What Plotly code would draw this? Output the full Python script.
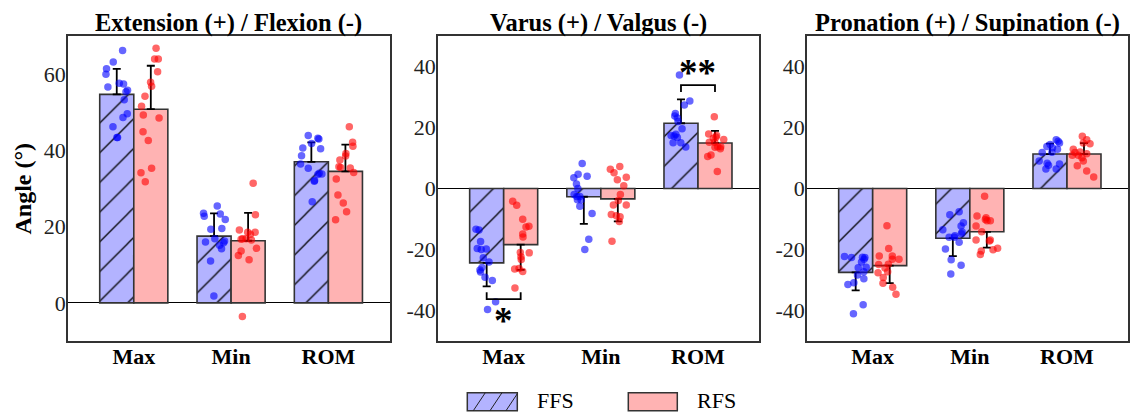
import plotly.graph_objects as go

W, H = 1132, 412

categories = ["Max", "Min", "ROM"]
groups = ["FFS", "RFS"]
panel_titles = ["Extension (+) / Flexion (-)", "Varus (+) / Valgus (-)", "Pronation (+) / Supination (-)"]
y_ranges = [[-10, 70], [-50, 50], [-50, 50]]
y_ticks = [[0, 20, 40, 60], [-40, -20, 0, 20, 40], [-40, -20, 0, 20, 40]]

# ---- bar means / SD (degrees) ----
ext_ffs_mean = [54.7, 17.5, 37.0]
ext_ffs_sd = [6.7, 6.0, 5.1]
ext_rfs_mean = [50.8, 16.3, 34.5]
ext_rfs_sd = [11.4, 7.3, 7.0]

var_ffs_mean = [-24.4, -2.7, 21.4]
var_ffs_sd = [7.7, 8.9, 7.8]
var_rfs_mean = [-18.4, -3.4, 14.9]
var_rfs_sd = [8.3, 7.4, 4.0]

pro_ffs_mean = [-27.5, -16.3, 11.3]
pro_ffs_sd = [5.9, 5.9, 3.4]
pro_rfs_mean = [-25.3, -14.2, 11.3]
pro_rfs_sd = [5.7, 5.2, 3.6]

# ---- individual subject values (degrees) and their horizontal jitter ----
ext_ffs_max = [66.2, 63.2, 61.4, 60.0, 56.6, 57.6, 57.4, 55.8, 55.4, 53.3, 49.6, 48.6, 46.2, 43.4, 43.4]
ext_ffs_max_jit = [0.06, -0.036, -0.105, -0.111, -0.091, 0.026, 0.07, 0.111, 0.095, 0.077, 0.108, 0.064, -0.039, 0.002, 0.008]
ext_rfs_max = [66.8, 64.0, 64.0, 60.6, 57.9, 56.8, 54.2, 51.6, 49.3, 48.5, 44.9, 42.6, 35.3, 34.1, 31.8]
ext_rfs_max_jit = [0.054, 0.039, 0.077, 0.07, -0.002, 0.008, -0.06, -0.095, -0.077, 0.085, -0.08, -0.026, 0.008, -0.101, -0.057]
ext_ffs_min = [25.4, 23.5, 22.7, 23.3, 21.9, 19.3, 19.5, 16.0, 16.8, 16.2, 15.1, 14.2, 11.0, 1.8, 15.8]
ext_ffs_min_jit = [0.033, -0.108, -0.101, 0.064, 0.115, -0.033, 0.08, -0.088, 0.008, 0.108, 0.057, 0.077, -0.036, -0.002, 0.098]
ext_rfs_min = [31.4, 23.1, 19.1, 18.5, 18.5, 18.0, 16.8, 16.7, 16.8, 14.3, 13.6, 12.4, 11.3, -3.6, 16.5]
ext_rfs_min_jit = [0.052, 0.075, -0.09, -0.004, 0.072, 0.024, -0.021, -0.072, -0.056, 0.086, -0.072, -0.1, 0.01, -0.059, 0.034]
ext_ffs_rom = [43.9, 43.2, 43.0, 40.6, 40.4, 41.8, 38.6, 36.4, 35.3, 34.0, 33.8, 33.7, 32.1, 26.5, 31.9]
ext_ffs_rom_jit = [-0.032, 0.067, 0.077, -0.088, 0.095, 0.002, -0.101, -0.111, -0.032, 0.081, 0.108, 0.067, 0.033, 0.009, 0.03]
ext_rfs_rom = [46.2, 42.1, 41.1, 39.2, 37.5, 35.7, 35.5, 35.4, 34.2, 32.5, 28.3, 26.2, 23.9, 21.8, 38.5]
ext_rfs_rom_jit = [0.04, 0.074, 0.077, 0.005, -0.057, -0.067, -0.049, 0.05, 0.085, -0.094, -0.077, -0.022, 0.012, -0.101, 0.002]

var_ffs_max = [-13.4, -13.6, -17.4, -19.7, -20.0, -19.8, -22.7, -24.1, -25.9, -27.4, -29.1, -30.2, -37.1, -39.7, -26.7]
var_ffs_max_jit = [-0.11, -0.079, -0.063, -0.097, -0.056, -0.004, -0.035, 0.024, -0.048, -0.063, -0.017, 0.058, 0.092, 0.009, -0.069]
var_rfs_max = [-4.2, -5.5, -10.1, -12.6, -12.4, -14.9, -15.9, -21.0, -21.1, -22.4, -23.3, -26.4, -26.2, -27.2, -32.6]
var_rfs_max_jit = [-0.082, -0.041, 0.021, 0.055, 0.085, 0.021, 0.024, -0.004, 0.088, 0.003, 0.006, -0.062, -0.017, 0.021, -0.059]
var_ffs_min = [8.2, 4.7, 3.5, 4.0, 1.5, 0.0, -2.0, -2.6, -2.6, -3.7, -3.7, -5.8, -8.2, -16.6, -20.0]
var_ffs_min_jit = [-0.017, -0.059, -0.103, 0.034, -0.076, -0.062, -0.1, -0.072, -0.041, -0.066, -0.028, -0.041, 0.085, 0.051, 0.01]
var_rfs_min = [6.3, 7.2, 5.2, 3.7, 2.9, 0.9, -2.0, -3.9, -5.4, -5.4, -8.5, -8.9, -9.3, -10.8, -17.3]
var_rfs_min_jit = [-0.077, 0.02, -0.039, 0.087, -0.005, 0.061, 0.026, 0.005, -0.046, 0.087, -0.067, -0.015, 0.023, 0.015, -0.06]
var_ffs_rom = [37.2, 28.7, 27.4, 24.6, 23.8, 23.1, 19.6, 17.4, 17.2, 16.7, 15.0, 15.0, 13.6, 17.8, 22.0]
var_ffs_rom_jit = [-0.016, 0.091, 0.035, -0.058, -0.064, -0.037, 0.011, -0.102, -0.071, -0.037, -0.081, -0.002, 0.049, -0.053, -0.03]
var_rfs_rom = [23.5, 17.9, 17.4, 16.1, 15.2, 15.2, 13.7, 13.7, 13.5, 11.0, 10.5, 5.6, 16.5, 13.0, 16.8]
var_rfs_rom_jit = [-0.007, -0.065, 0.017, 0.09, -0.059, -0.003, 0.028, 0.059, 0.0, -0.041, -0.075, 0.024, -0.017, 0.055, 0.01]

pro_ffs_max = [-22.3, -22.6, -22.5, -22.6, -24.1, -25.8, -27.3, -28.4, -29.6, -30.9, -31.5, -38.1, -41.1, -23.2, -26.0]
pro_ffs_max_jit = [-0.115, -0.043, 0.07, 0.095, 0.06, 0.108, 0.084, 0.019, 0.084, -0.019, -0.08, 0.077, -0.023, 0.087, 0.026]
pro_rfs_max = [-12.2, -19.7, -22.1, -22.1, -23.2, -23.2, -24.9, -26.1, -24.8, -27.6, -29.2, -27.3, -31.1, -32.4, -34.7]
pro_rfs_max_jit = [-0.028, -0.01, -0.107, 0.027, 0.096, 0.027, -0.113, -0.048, -0.014, -0.12, -0.066, -0.021, -0.069, 0.031, 0.065]
pro_ffs_min = [-7.6, -8.6, -11.2, -12.3, -13.5, -14.3, -14.8, -16.0, -16.0, -17.6, -19.8, -23.4, -25.2, -28.0, -15.5]
pro_ffs_min_jit = [0.065, -0.031, 0.109, 0.085, -0.103, 0.096, 0.088, -0.038, 0.016, 0.065, -0.076, -0.017, 0.085, -0.021, 0.021]
pro_rfs_min = [-2.5, -9.0, -9.6, -10.6, -10.6, -12.3, -14.2, -16.9, -16.9, -17.2, -20.5, -21.6, -19.6, -20.1, -10.2]
pro_rfs_min_jit = [-0.023, -0.101, -0.008, 0.002, 0.036, -0.111, -0.053, -0.111, 0.036, 0.026, -0.057, -0.067, 0.111, 0.064, -0.015]
pro_ffs_rom = [16.0, 15.5, 14.9, 14.4, 13.8, 13.4, 12.9, 11.8, 11.9, 9.0, 8.0, 7.6, 6.4, 6.4, 8.3]
pro_ffs_rom_jit = [0.064, 0.084, 0.098, 0.002, -0.032, 0.026, 0.077, -0.08, 0.02, -0.111, 0.098, -0.015, -0.042, 0.064, -0.029]
pro_rfs_rom = [17.1, 16.0, 14.7, 14.9, 12.9, 11.4, 10.9, 10.9, 10.1, 9.0, 7.5, 5.7, 3.8, 12.0, 11.8]
pro_rfs_rom_jit = [-0.017, 0.028, 0.062, -0.007, -0.11, 0.028, -0.12, -0.059, -0.021, -0.007, -0.069, 0.028, 0.1, -0.041, -0.093]

# significance marks
sig_panel = [1, 1]
sig_category = ["Max", "ROM"]
sig_label = ["*", "**"]
sig_bracket_y = [-36.3, 33.9]
sig_label_y = [-42.0, 39.4]
sig_direction = [-1, 1]

panels = [
    dict(ffs_mean=ext_ffs_mean, ffs_sd=ext_ffs_sd, rfs_mean=ext_rfs_mean, rfs_sd=ext_rfs_sd,
         ffs_pts=[ext_ffs_max, ext_ffs_min, ext_ffs_rom], ffs_jit=[ext_ffs_max_jit, ext_ffs_min_jit, ext_ffs_rom_jit],
         rfs_pts=[ext_rfs_max, ext_rfs_min, ext_rfs_rom], rfs_jit=[ext_rfs_max_jit, ext_rfs_min_jit, ext_rfs_rom_jit]),
    dict(ffs_mean=var_ffs_mean, ffs_sd=var_ffs_sd, rfs_mean=var_rfs_mean, rfs_sd=var_rfs_sd,
         ffs_pts=[var_ffs_max, var_ffs_min, var_ffs_rom], ffs_jit=[var_ffs_max_jit, var_ffs_min_jit, var_ffs_rom_jit],
         rfs_pts=[var_rfs_max, var_rfs_min, var_rfs_rom], rfs_jit=[var_rfs_max_jit, var_rfs_min_jit, var_rfs_rom_jit]),
    dict(ffs_mean=pro_ffs_mean, ffs_sd=pro_ffs_sd, rfs_mean=pro_rfs_mean, rfs_sd=pro_rfs_sd,
         ffs_pts=[pro_ffs_max, pro_ffs_min, pro_ffs_rom], ffs_jit=[pro_ffs_max_jit, pro_ffs_min_jit, pro_ffs_rom_jit],
         rfs_pts=[pro_rfs_max, pro_rfs_min, pro_rfs_rom], rfs_jit=[pro_rfs_max_jit, pro_rfs_min_jit, pro_rfs_rom_jit]),
]

# ---- style ----
FONT = "Liberation Serif"
FFS_FILL = "#b3b3ff"
RFS_FILL = "#ffb3b3"
FFS_DOT = "rgba(0,0,255,0.6)"
RFS_DOT = "rgba(255,0,0,0.6)"
EDGE = "#333333"
DODGE = 0.175
BAR_W = 0.35
X_RANGE = [-0.676, 2.628]

panel_px = [(68, 389.5), (438, 759), (807, 1128)]
plot_top_px, plot_bot_px = 36, 341


def px2x(px):
    return px / W


def px2y(py):
    return (H - py) / H


fig = go.Figure()
annotations = []
shapes = []
cat_pos = {c: i for i, c in enumerate(categories)}

for p, pan in enumerate(panels):
    ax = "" if p == 0 else str(p + 1)
    xa, ya = "x" + ax, "y" + ax
    pos = list(range(len(categories)))
    for g, (mean, sd, fill, hatch, sign) in enumerate([
        (pan["ffs_mean"], pan["ffs_sd"], FFS_FILL, True, -1),
        (pan["rfs_mean"], pan["rfs_sd"], RFS_FILL, False, 1),
    ]):
        up = [s if m >= 0 else 0 for m, s in zip(mean, sd)]
        down = [s if m < 0 else 0 for m, s in zip(mean, sd)]
        marker = dict(color=fill, line=dict(color=EDGE, width=1.6))
        if hatch:
            marker["pattern"] = dict(shape="/", fgcolor="#000000", fgopacity=1, size=21,
                                     solidity=0.06, fillmode="overlay")
        fig.add_trace(go.Bar(
            x=[i + sign * DODGE for i in pos], y=mean, width=BAR_W, marker=marker,
            error_y=dict(type="data", symmetric=False, array=up, arrayminus=down,
                         color="black", thickness=1.8, width=4),
            xaxis=xa, yaxis=ya, showlegend=False, name=groups[g]))
    for g, (pts, jit, col, sign) in enumerate([
        (pan["ffs_pts"], pan["ffs_jit"], FFS_DOT, -1),
        (pan["rfs_pts"], pan["rfs_jit"], RFS_DOT, 1),
    ]):
        xs, ys = [], []
        for i, (vals, js) in enumerate(zip(pts, jit)):
            xs += [i + sign * DODGE + j for j in js]
            ys += vals
        fig.add_trace(go.Scatter(x=xs, y=ys, mode="markers",
                                 marker=dict(color=col, size=7.5, line=dict(width=0)),
                                 xaxis=xa, yaxis=ya, showlegend=False, name=groups[g]))

    x0, x1 = panel_px[p]
    dom_x = [px2x(x0), px2x(x1)]
    dom_y = [px2y(plot_bot_px), px2y(plot_top_px)]
    axis_common = dict(showline=True, mirror=True, linecolor=EDGE, linewidth=1.6,
                       showgrid=False, ticks="")
    fig.update_layout(**{
        "xaxis" + ax: dict(domain=dom_x, range=X_RANGE, tickvals=pos,
                           ticktext=["<b>%s</b>" % c for c in categories],
                           tickfont=dict(family=FONT, size=22, color="black"),
                           ticklabelstandoff=-5,
                           zeroline=False, anchor=ya, **axis_common),
        "yaxis" + ax: dict(domain=dom_y, range=y_ranges[p], tickvals=y_ticks[p],
                           ticktext=[str(v) for v in y_ticks[p]],
                           tickfont=dict(family=FONT, size=22, color="#222222"),
                           ticklabelstandoff=-4,
                           zeroline=True, zerolinecolor="black", zerolinewidth=1,
                           anchor=xa, **axis_common),
    })
    annotations.append(dict(text="<b>%s</b>" % panel_titles[p], xref="paper", yref="paper",
                            x=px2x((x0 + x1) / 2), y=px2y(23), xanchor="center", yanchor="middle",
                            showarrow=False, font=dict(family=FONT, size=24.5, color="black")))

# significance brackets
for pi, cat, lab, by, ly, d in zip(sig_panel, sig_category, sig_label, sig_bracket_y, sig_label_y, sig_direction):
    ax = "" if pi == 0 else str(pi + 1)
    i = cat_pos[cat]
    xl, xr = i - DODGE, i + DODGE
    tick = 2.3 * d
    shapes.append(dict(type="path", xref="x" + ax, yref="y" + ax,
                       path="M %f,%f L %f,%f L %f,%f L %f,%f" % (xl, by - tick, xl, by, xr, by, xr, by - tick),
                       line=dict(color="black", width=1.8)))
    annotations.append(dict(text="<b>%s</b>" % lab,
                            xref="x" + ax, yref="y" + ax,
                            x=i, y=ly, xanchor="center", yanchor="middle",
                            showarrow=False, font=dict(family=FONT, size=37, color="black"),
                            yshift=-4))

# y axis title
annotations.append(dict(text="<b>Angle (°)</b>", xref="paper", yref="paper", x=px2x(23),
                        y=px2y((plot_top_px + plot_bot_px) / 2), textangle=-90, showarrow=False,
                        xanchor="center", yanchor="middle", font=dict(family=FONT, size=24, color="black")))

# legend (drawn manually for large keys)
legend_keys = [(467.3, 517.3, FFS_FILL, True), (628.3, 677.3, RFS_FILL, False)]
for g, (lx0, lx1, fill, hatch) in enumerate(legend_keys):
    ly0, ly1 = 392.7, 410.7
    shapes.append(dict(type="rect", xref="paper", yref="paper", x0=px2x(lx0), x1=px2x(lx1),
                       y0=px2y(ly1), y1=px2y(ly0), fillcolor=fill, line=dict(color=EDGE, width=1.5)))
    if hatch:
        for bx in [473.3, 490.0, 506.0]:
            shapes.append(dict(type="line", xref="paper", yref="paper", x0=px2x(bx), y0=px2y(ly1),
                               x1=px2x(min(bx + 12, lx1)), y1=px2y(ly0 if bx + 12 <= lx1 else ly1 - (lx1 - bx) * 1.5),
                               line=dict(color="#222222", width=1)))
    annotations.append(dict(text=groups[g], xref="paper", yref="paper", x=px2x(lx1 + 18), y=px2y(400),
                            xanchor="left", yanchor="middle", showarrow=False,
                            font=dict(family=FONT, size=22, color="black")))

fig.update_layout(width=W, height=H, margin=dict(l=0, r=0, t=0, b=0),
                  paper_bgcolor="white", plot_bgcolor="white", showlegend=False,
                  barmode="overlay", annotations=annotations, shapes=shapes)

fig.write_html("out.html")
